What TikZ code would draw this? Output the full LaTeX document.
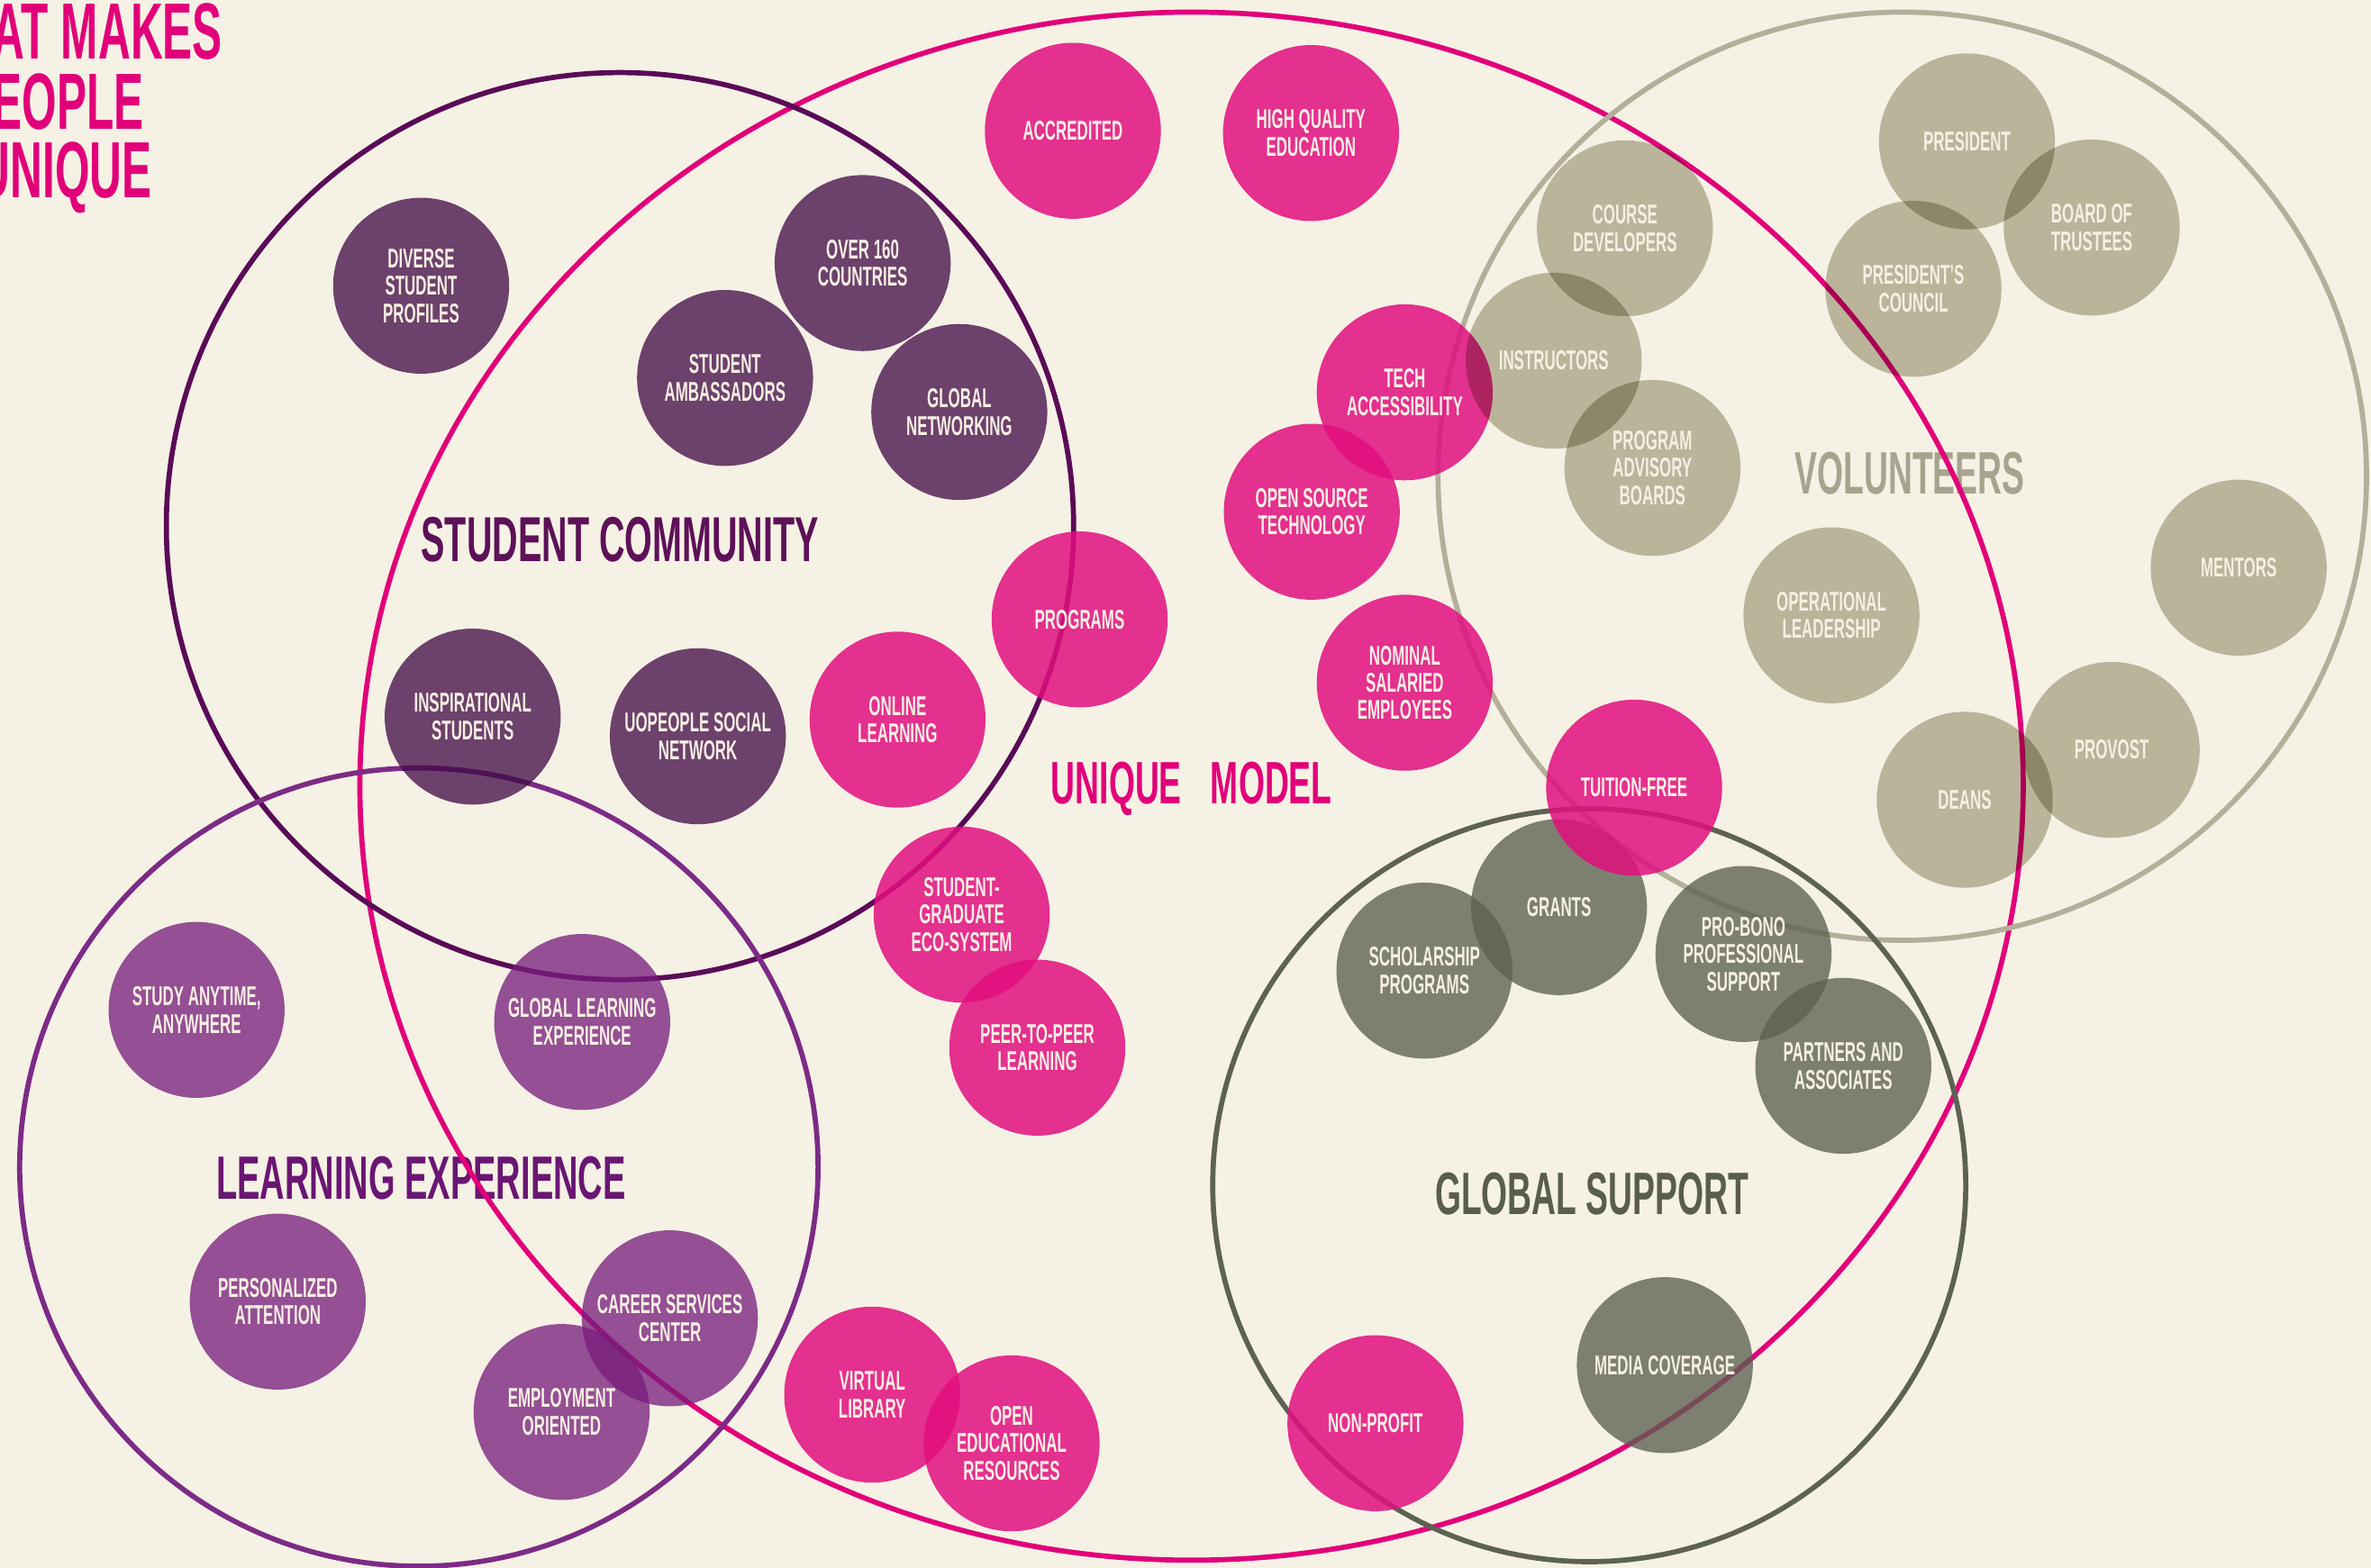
\documentclass[tikz,border=0pt]{standalone}
\usepackage{fontspec}
\setmainfont{Liberation Sans}[FakeStretch=0.56]

\definecolor{paper}{HTML}{F5F1E4}
\definecolor{bubtext}{HTML}{F6EFE2}
\definecolor{modelline}{HTML}{E2007A}
\definecolor{modelfill}{HTML}{E20F7F}
\definecolor{commline}{HTML}{5A0B57}
\definecolor{commfill}{HTML}{420A46}
\definecolor{commhead}{HTML}{5D1158}
\definecolor{learnline}{HTML}{7C2B86}
\definecolor{learnfill}{HTML}{771D7C}
\definecolor{learnhead}{HTML}{6A1673}
\definecolor{volline}{HTML}{B3AF9A}
\definecolor{volfill}{HTML}{C2BFAE}
\definecolor{volhead}{HTML}{A8A38E}
\definecolor{supline}{HTML}{5D6253}
\definecolor{supfill}{HTML}{5C6150}
\definecolor{suphead}{HTML}{595D4F}

\tikzset{
  bubble/.style={circle, minimum size=29.1mm, inner sep=0pt, align=center,
    text=bubtext, text opacity=1, font=\fontsize{12.8}{12.9}\selectfont\bfseries},
  modelbub/.style={bubble, fill=modelfill, fill opacity=0.85},
  commbub/.style={bubble, fill=commfill, fill opacity=0.76},
  learnbub/.style={bubble, fill=learnfill, fill opacity=0.76},
  supbub/.style={bubble, fill=supfill, fill opacity=0.78},
  volbub/.style={bubble, preaction={fill=volfill, blend mode=multiply}},
  heading/.style={font=\fontsize{28.2}{30}\selectfont\bfseries},
  titleline/.style={anchor=base east, inner sep=0pt, text=modelline, font=\fontsize{37.5}{40}\selectfont\bfseries},
  ring/.style={line width=0.85mm}
}

\begin{document}
\begin{tikzpicture}[x=0.25mm, y=-0.25mm]
	\fill[paper] (0,0) rectangle (1568,1037);
	\useasboundingbox (0,0) rectangle (1568,1037);
	\clip (0,0) rectangle (1568,1037);

	% title, cut by the left edge
	\node[titleline] (title1) at (147.4,38.8) {WHAT MAKES};
	\node[titleline] (title2) at (95.5,85.5) {UOPEOPLE};
	\node[titleline] (title3) at (100.7,131) {UNIQUE};

	% group names
	\node[heading, font=\fontsize{29.9}{30}\selectfont\bfseries, text=commhead] (commlabel) at (410,357) {STUDENT COMMUNITY};
	\node[heading, font=\fontsize{28.8}{30}\selectfont\bfseries, text=learnhead] (learnlabel) at (278.5,779) {LEARNING EXPERIENCE};
	\node[heading, text=modelline] (modellabel) at (788,522) {UNIQUE\hspace{4.8mm}MODEL};
	\node[heading, text=volhead] (vollabel) at (1263,313) {VOLUNTEERS};
	\node[heading, text=suphead] (suplabel) at (1052.7,789.5) {GLOBAL SUPPORT};

	% group outlines
	\draw[ring, modelline] (788,520) ellipse [x radius=550, y radius=512];
	\draw[ring, commline] (410,348) circle [radius=300];
	\draw[ring, learnline] (277,772) circle [radius=264];
	\draw[ring, volline] (1258,315) circle [radius=307];
	\draw[ring, supline] (1051,784) circle [radius=249];

	% global support
	\node[supbub] (grants) at (1031,600) {GRANTS};
	\node[supbub] (scholarship) at (942,642) {SCHOLARSHIP\\PROGRAMS};
	\node[supbub] (probono) at (1153,631) {PRO-BONO\\PROFESSIONAL\\SUPPORT};
	\node[supbub] (partners) at (1219,705) {PARTNERS AND\\ASSOCIATES};
	\node[supbub] (media) at (1101,903) {MEDIA COVERAGE};

	% student community
	\node[commbub] (diverse) at (278.5,189) {DIVERSE\\STUDENT\\PROFILES};
	\node[commbub] (countries) at (570.5,174) {OVER 160\\COUNTRIES};
	\node[commbub] (ambassadors) at (479.5,250) {STUDENT\\AMBASSADORS};
	\node[commbub] (networking) at (634.4,272.5) {GLOBAL\\NETWORKING};
	\node[commbub] (inspirational) at (312.6,474) {INSPIRATIONAL\\STUDENTS};
	\node[commbub] (socialnet) at (461.5,487) {UOPEOPLE SOCIAL\\NETWORK};

	% learning experience
	\node[learnbub] (anytime) at (130,668) {STUDY ANYTIME,\\ANYWHERE};
	\node[learnbub] (globallearn) at (385,676) {GLOBAL LEARNING\\EXPERIENCE};
	\node[learnbub] (personalized) at (183.7,861) {PERSONALIZED\\ATTENTION};
	\node[learnbub] (career) at (443,872) {CAREER SERVICES\\CENTER};
	\node[learnbub] (employment) at (371.4,934) {EMPLOYMENT\\ORIENTED};

	% unique model
	\node[modelbub] (accredited) at (709.5,86.5) {ACCREDITED};
	\node[modelbub] (quality) at (867,88) {HIGH QUALITY\\EDUCATION};
	\node[modelbub] (tech) at (929,259.5) {TECH\\ACCESSIBILITY};
	\node[modelbub] (opensource) at (867.5,338.5) {OPEN SOURCE\\TECHNOLOGY};
	\node[modelbub] (programs) at (714,409.7) {PROGRAMS};
	\node[modelbub] (online) at (593.6,476) {ONLINE\\LEARNING};
	\node[modelbub] (nominal) at (929,451.6) {NOMINAL\\SALARIED\\EMPLOYEES};
	\node[modelbub] (tuition) at (1080.7,521) {TUITION-FREE};
	\node[modelbub] (ecosystem) at (636,605) {STUDENT-\\GRADUATE\\ECO-SYSTEM};
	\node[modelbub] (peer) at (686,693) {PEER-TO-PEER\\LEARNING};
	\node[modelbub] (library) at (576.8,922.5) {VIRTUAL\\LIBRARY};
	\node[modelbub] (oer) at (669,954.7) {OPEN\\EDUCATIONAL\\RESOURCES};
	\node[modelbub] (nonprofit) at (909.6,941.4) {NON-PROFIT};

	% volunteers
	\node[volbub] (president) at (1300.8,93.5) {PRESIDENT};
	\node[volbub] (board) at (1383.3,150.5) {BOARD OF\\TRUSTEES};
	\node[volbub] (council) at (1265.4,191) {PRESIDENT’S\\COUNCIL};
	\node[volbub] (coursedev) at (1074.6,151) {COURSE\\DEVELOPERS};
	\node[volbub] (instructors) at (1027.5,238.6) {INSTRUCTORS};
	\node[volbub] (advisory) at (1092.8,309.5) {PROGRAM\\ADVISORY\\BOARDS};
	\node[volbub] (operational) at (1211.2,407) {OPERATIONAL\\LEADERSHIP};
	\node[volbub] (mentors) at (1480.5,375.5) {MENTORS};
	\node[volbub] (provost) at (1396.5,496) {PROVOST};
	\node[volbub] (deans) at (1299.3,529) {DEANS};
\end{tikzpicture}
\end{document}
